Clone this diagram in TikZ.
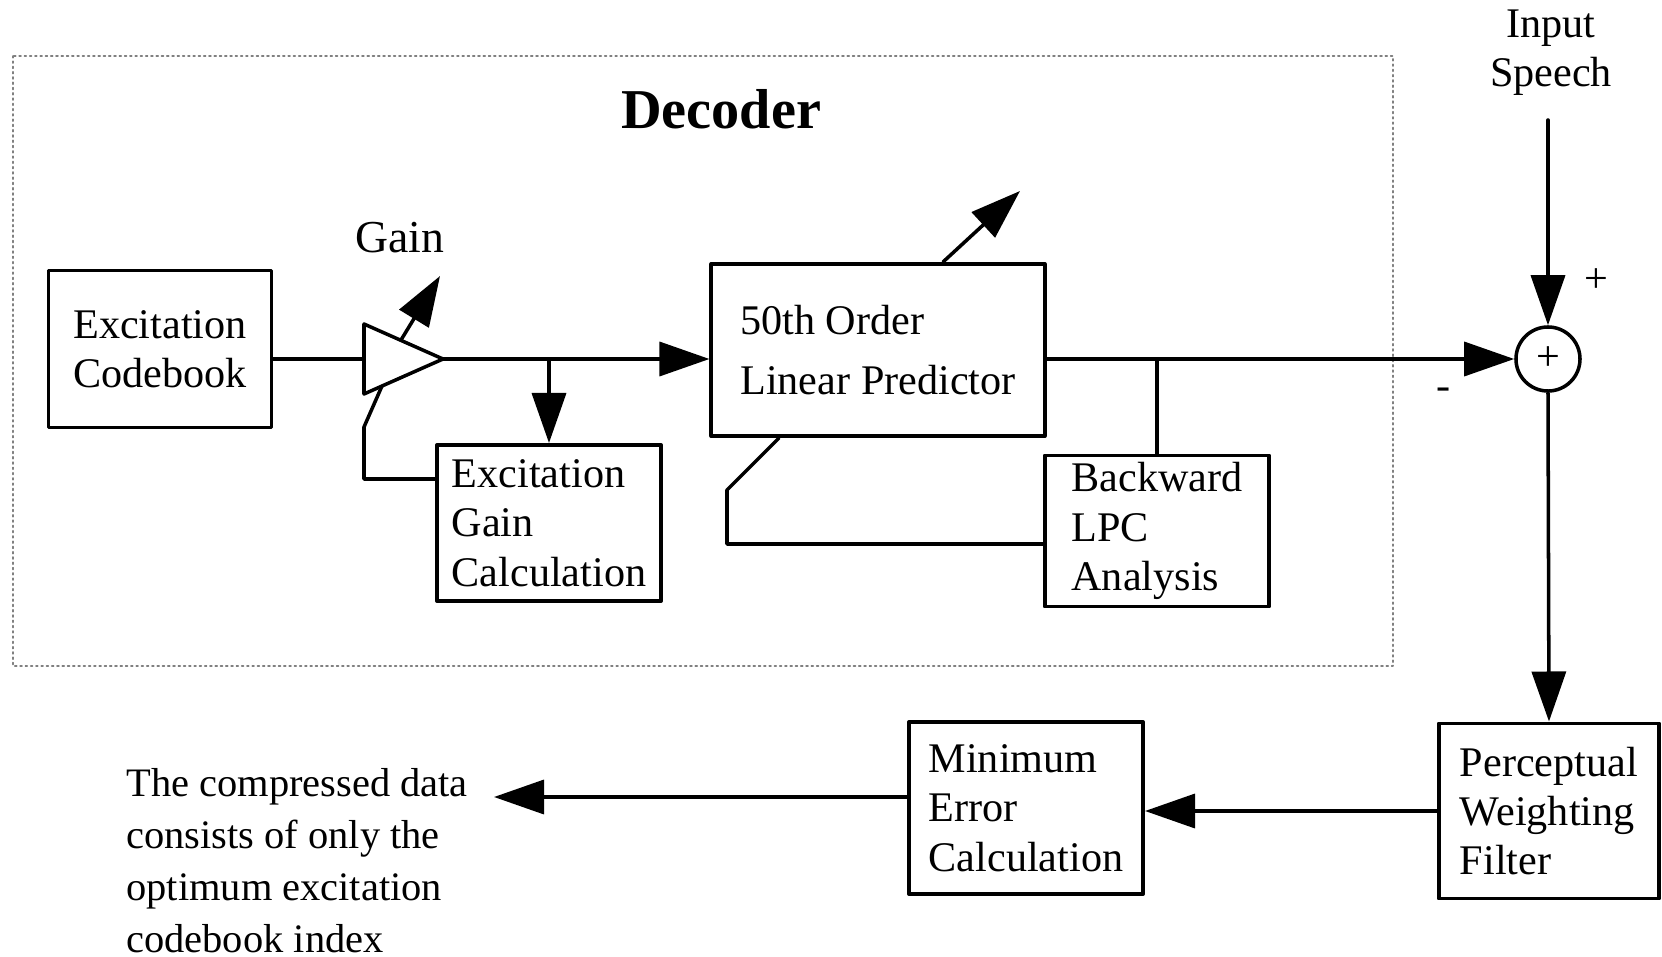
\documentclass[tikz,border=0pt]{standalone}
\usepackage{fontspec}
\setmainfont{Liberation Serif}
\usetikzlibrary{arrows.meta,calc}
\tikzset{
    lab/.style={
        font=\fontsize{12}{14}\selectfont
    },
    blk/.style={
        draw, line width=1.1pt, align=left, inner sep=0pt,
        font=\fontsize{12}{14}\selectfont
    },
    wire/.style={line width=1pt},
    sig/.style={line width=1pt, -{Triangle[length=5mm,width=3.4mm]}}
}

\begin{document}
\begin{tikzpicture}[x=0.01cm,y=-0.01cm,line cap=round,line join=round]
\useasboundingbox (0,0) rectangle (1662,957);

% --- decoder frame ---
    \draw[densely dotted, line width=0.5pt, gray] (13,56) rectangle (1393,666);
    \node[font=\fontsize{16}{19}\selectfont\bfseries] (dec) at (721,109) {Decoder};

% --- blocks ---
    \node[blk, minimum width=2.23cm, minimum height=1.57cm] (cb) at (160,349) {Excitation\\Codebook};
    \node[blk, minimum width=2.24cm, minimum height=1.56cm] (egc) at (549,523) {Excitation\\Gain\\Calculation};
    \node[blk, minimum width=3.33cm, minimum height=1.72cm] (lp) at (878,350) {50th Order\\[3pt]Linear Predictor};
    \node[blk, minimum width=2.24cm, minimum height=1.51cm] (bl) at (1157,531) {Backward\\LPC\\Analysis};
    \node[blk, minimum width=2.20cm, minimum height=1.75cm] (pwf) at (1549,811) {Perceptual\\Weighting\\Filter};
    \node[blk, minimum width=2.34cm, minimum height=1.72cm] (mec) at (1026,808) {Minimum\\Error\\Calculation};

% --- gain amplifier ---
    \coordinate (ampA) at (364,324);
    \coordinate (ampB) at (364,394);
    \coordinate (ampC) at (443,359);
    \coordinate (ampin) at (364,359);
    \draw[wire] (ampA) -- (ampC) -- (ampB) -- cycle;
    \node[font=\fontsize{13}{15}\selectfont] (gain) at (400,238) {Gain};
    \coordinate (gtail) at (401,340);
    \coordinate (ghead) at (440,276);
    \draw[sig] (gtail) -- (ghead);

% --- summing junction and input ---
    \node[draw, circle, line width=1pt, minimum size=0.64cm, inner sep=0pt, lab] (sum) at (1548,359) {+};
    \node[lab, align=center] (inp) at (1551,53) {Input\\Speech};
    \coordinate (intop) at (1548,120);
    \node[lab] (plus) at (1596,281) {+};
    \node[lab] (minus) at (1444,394) {-};

% --- output text ---
    \node[font=\fontsize{11.5}{14.8}\selectfont, align=left, anchor=west] (out) at (114,861)
        {The compressed data\\consists of only the\\optimum excitation\\codebook index};
    \coordinate (outtip) at (494,797);

% --- connectors ---
    \draw[wire] (cb.east |- ampin) -- (ampin);
    \draw[sig] (ampC) -- (lp.west |- ampC);
    \draw[sig] (egc.north |- ampC) -- (egc.north);
    \draw[wire] ($(egc.west)+(0,-44)$) -- (364,479) -- (364,427) -- (382,386);
    \draw[sig] ($(lp.north)+(65,0)$) -- (1020,191);
    \draw[sig] (lp.east |- sum) -- (sum.west);
    \draw[wire] (bl.north |- sum) -- (bl.north);
    \draw[wire] ($(bl.west)+(0,13)$) -- (727,544) -- (727,490) -- ($(lp.south)+(-99,0)$);
    \draw[sig] (intop) -- (sum.north);
    \draw[sig] (sum.south) -- (pwf.north);
    \draw[sig] (pwf.west) -- (mec.east |- pwf.west);
    \draw[sig] (mec.west |- outtip) -- (outtip);

\end{tikzpicture}
\end{document}
